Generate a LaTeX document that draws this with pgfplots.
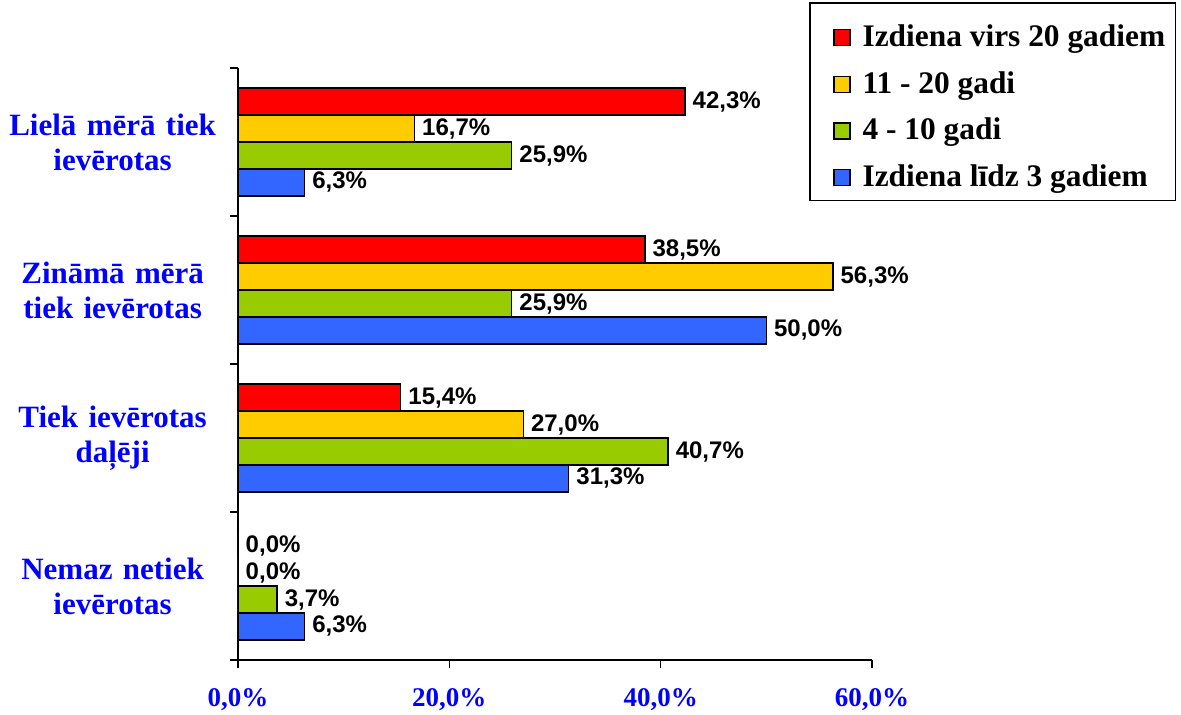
\documentclass[border=0pt]{standalone}
\usepackage{fontspec}
\setmainfont{Liberation Serif}
\newfontfamily\arialf{Liberation Sans}
\usepackage{pgfplots}
\pgfplotsset{compat=1.18}
\definecolor{cRed}{RGB}{255,0,0}
\definecolor{cYel}{RGB}{255,204,0}
\definecolor{cGrn}{RGB}{153,204,0}
\definecolor{cBlu}{RGB}{51,102,255}
\definecolor{lblue}{RGB}{0,0,255}
\begin{document}
\begin{tikzpicture}
\useasboundingbox (-119pt,-27pt) rectangle (471.5pt,330pt);
\begin{axis}[
 scale only axis, width=317pt, height=296pt,
 xmin=0, xmax=60, ymin=-0.5, ymax=3.5,
 axis x line*=bottom, axis y line*=left,
 axis line style={-, line width=0.75pt},
 xbar, bar width=0.182,
 /pgf/number format/assume math mode=true,
 xtick={0,20,40,60},
 xticklabels={{0,0\%},{20,0\%},{40,0\%},{60,0\%}},
 ytick={0,1,2,3},
 yticklabels={{Nemaz netiek\\ievērotas},{Tiek ievērotas\\daļēji},{Zināmā mērā\\tiek ievērotas},{Lielā mērā tiek\\ievērotas}},
 minor ytick={-0.5,0.5,1.5,2.5,3.5},
 tick align=outside,
 major tick length=4pt, minor tick length=4pt,
 tick style={black, line width=0.75pt},
 every major y tick/.style={draw=none},
 yticklabel style={font=\fontsize{15.5}{17.5}\selectfont\bfseries, text=lblue, align=center, inner sep=0pt, text width=105pt, xshift=-6pt},
 xticklabel style={font=\fontsize{13.5}{15}\selectfont\bfseries, text=lblue, inner sep=0pt, yshift=-10pt},
 point meta=x,
 nodes near coords={\pgfmathprintnumber[fixed,fixed zerofill,precision=1,use comma,assume math mode=true]{\pgfplotspointmeta}\%},
 nodes near coords style={font=\arialf\bfseries\fontsize{12}{14}\selectfont, text=black, anchor=west, inner sep=0pt, xshift=3.5pt},
 legend cell align=left,
 legend style={at={(1.4795,1.1115)}, anchor=north east, draw=black, line width=0.75pt,
   inner xsep=5pt, inner ysep=5pt, font=\fontsize{15.7}{17}\selectfont\bfseries,
   row sep=4.3pt, column sep=6pt,
   nodes={inner sep=0pt, text height=17pt, text depth=2pt}},
 legend image code/.code={\path (0pt,0pt); \draw[#1, line width=0.6pt] (6.5pt,-7pt) rectangle (14.5pt,1pt);},
]
\addplot[fill=cRed, draw=black, line width=0.75pt, bar shift=0.273] coordinates {(42.3,3) (38.5,2) (15.4,1) (0,0)};
\addplot[fill=cYel, draw=black, line width=0.75pt, bar shift=0.091] coordinates {(16.7,3) (56.3,2) (27.0,1) (0,0)};
\addplot[fill=cGrn, draw=black, line width=0.75pt, bar shift=-0.091] coordinates {(25.9,3) (25.9,2) (40.7,1) (3.7,0)};
\addplot[fill=cBlu, draw=black, line width=0.75pt, bar shift=-0.273] coordinates {(6.3,3) (50.0,2) (31.3,1) (6.3,0)};
\legend{Izdiena virs 20 gadiem, 11 - 20 gadi, 4 - 10 gadi, Izdiena līdz 3 gadiem}
\end{axis}
\end{tikzpicture}
\end{document}
